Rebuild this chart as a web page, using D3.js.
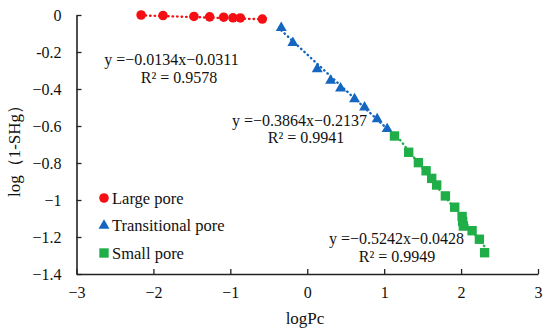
<!DOCTYPE html>
<html>
<head>
<meta charset="utf-8">
<script src="https://cdn.jsdelivr.net/npm/d3@7"></script>
<style>
	body { margin: 0; background: #fff; }
	svg text { font-family: "Liberation Serif", "Times New Roman", serif; fill: #111; }
</style>
</head>
<body>
<svg id="chart" width="550" height="334"></svg>
<script>
// large pore (circles)
var largeX = [-2.16, -1.875, -1.473, -1.269, -1.087, -0.966, -0.87, -0.584];
var largeY = [0.0, -0.003, -0.008, -0.01, -0.012, -0.015, -0.016, -0.022];
// transitional pore (triangles)
var transX = [-0.338, -0.187, 0.13, 0.304, 0.433, 0.615, 0.745, 0.909, 1.039];
var transY = [-0.07, -0.15, -0.292, -0.355, -0.396, -0.455, -0.499, -0.562, -0.616];
// small pore (squares)
var smallX = [1.134, 1.319, 1.445, 1.545, 1.618, 1.683, 1.796, 1.917, 2.013, 2.021, 2.03, 2.143, 2.238, 2.306];
var smallY = [-0.654, -0.742, -0.798, -0.842, -0.883, -0.919, -0.978, -1.039, -1.089, -1.116, -1.141, -1.166, -1.212, -1.285];

var fits = [
	{ slope: -0.0134, icept: -0.0311, eq: "y =\u22120.0134x\u22120.0311", r2: "R\u00b2 = 0.9578" },
	{ slope: -0.3864, icept: -0.2137, eq: "y =\u22120.3864x\u22120.2137", r2: "R\u00b2 = 0.9941" },
	{ slope: -0.5242, icept: -0.0428, eq: "y =\u22120.5242x\u22120.0428", r2: "R\u00b2 = 0.9949" }
];

var xTicks = [-3, -2, -1, 0, 1, 2, 3];
var xTickLabels = ["\u22123", "\u22122", "\u22121", "0", "1", "2", "3"];
var yTicks = [0, -0.2, -0.4, -0.6, -0.8, -1, -1.2, -1.4];
var yTickLabels = ["0", "-0.2", "\u22120.4", "\u22120.6", "\u22120.8", "\u22121", "\u22121.2", "\u22121.4"];

var series = [
	{ name: "Large pore", xs: largeX, ys: largeY, color: "#f50f14", shape: d3.symbolCircle, size: 72, fit: fits[0] },
	{ name: "Transitional pore", xs: transX, ys: transY, color: "#1466c0", shape: d3.symbolTriangle, size: 52, fit: fits[1] },
	{ name: "Small pore", xs: smallX, ys: smallY, color: "#1fae47", shape: d3.symbolSquare, size: 88, fit: fits[2] }
];

var svg = d3.select("#chart");
var x = d3.scaleLinear().domain([-3, 3]).range([76.5, 538]);
var y = d3.scaleLinear().domain([-1.4, 0]).range([274, 15]);

// axes with inner ticks
var xAxis = d3.axisBottom(x).tickValues(xTicks).tickSizeInner(-5).tickSizeOuter(0)
	.tickFormat(function(d, i) { return xTickLabels[i]; });
var yAxis = d3.axisLeft(y).tickValues(yTicks).tickSizeInner(-5).tickSizeOuter(0)
	.tickFormat(function(d, i) { return yTickLabels[i]; });

var gx = svg.append("g").attr("transform", "translate(0," + y(-1.4) + ")").call(xAxis);
var gy = svg.append("g").attr("transform", "translate(" + x(-3) + ",0)").call(yAxis);
[gx, gy].forEach(function(g) {
	g.select(".domain").attr("stroke", "#222").attr("stroke-width", 1.6);
	g.selectAll(".tick line").attr("stroke", "#222").attr("stroke-width", 1.3);
	g.selectAll(".tick text").style("font-family", "Liberation Serif, serif").style("font-size", "16px").attr("fill", "#111");
});
gx.selectAll(".tick text").attr("y", 13);
gy.selectAll(".tick text").attr("x", -15);

// trendlines (dotted)
series.forEach(function(s) {
	var x0 = d3.min(s.xs), x1 = d3.max(s.xs);
	svg.append("line")
		.attr("x1", x(x0)).attr("y1", y(s.fit.slope * x0 + s.fit.icept))
		.attr("x2", x(x1)).attr("y2", y(s.fit.slope * x1 + s.fit.icept))
		.attr("stroke", s.color).attr("stroke-width", 2.4)
		.attr("stroke-dasharray", "0.5,4").attr("stroke-linecap", "round");
});

// markers
series.forEach(function(s) {
	svg.append("g").selectAll("path")
		.data(d3.zip(s.xs, s.ys))
		.enter().append("path")
		.attr("d", d3.symbol().type(s.shape).size(s.size))
		.attr("transform", function(d) { return "translate(" + x(d[0]) + "," + y(d[1]) + ")"; })
		.attr("fill", s.color);
});

// equations
var eqPos = [[171.5, 65, 179, 83], [299.5, 126, 306, 143], [396.5, 244, 397, 262]];
series.forEach(function(s, i) {
	var p = eqPos[i];
	svg.append("text").attr("x", p[0]).attr("y", p[1]).attr("text-anchor", "middle")
		.style("font-size", "16px").text(s.fit.eq);
	svg.append("text").attr("x", p[2]).attr("y", p[3]).attr("text-anchor", "middle")
		.style("font-size", "16px").text(s.fit.r2);
});

// legend
var legend = svg.append("g").attr("transform", "translate(104,198)");
series.forEach(function(s, i) {
	var row = legend.append("g").attr("transform", "translate(0," + (i * 27.5) + ")");
	row.append("path").attr("d", d3.symbol().type(s.shape).size(s.size)).attr("fill", s.color);
	row.append("text").attr("x", 8).attr("y", 5.5).style("font-size", "16.5px").text(s.name);
});

// axis titles
svg.append("text").attr("x", 305).attr("y", 324).attr("text-anchor", "middle")
	.style("font-size", "17px").text("logPc");
svg.append("text").attr("transform", "translate(20,147) rotate(-90)").attr("text-anchor", "middle")
	.style("font-size", "17px").text("log\uff081-SHg\uff09");
</script>
</body>
</html>
